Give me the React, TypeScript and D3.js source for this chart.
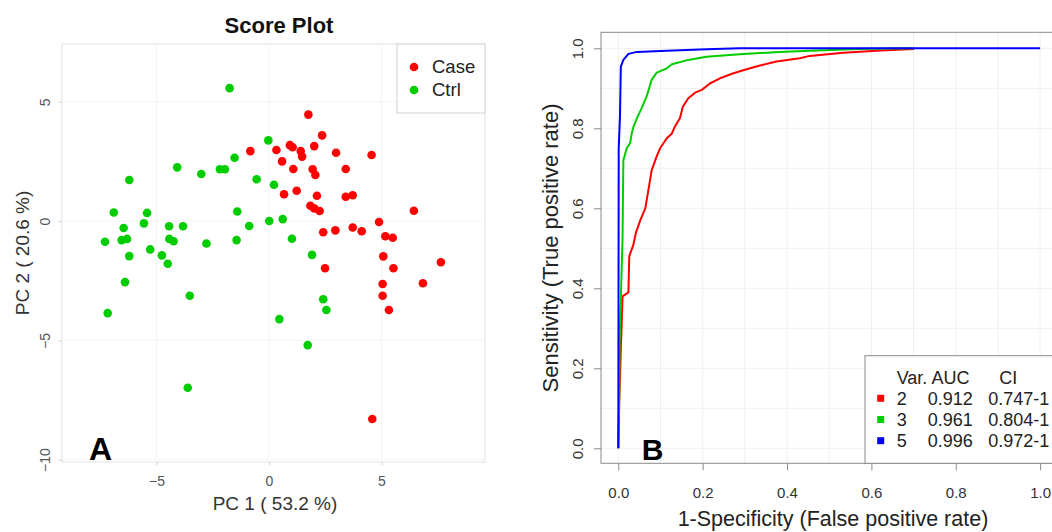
import { useEffect, useRef } from "react";
import * as d3 from "d3";

const FONT = "'Liberation Sans', Arial, Helvetica, sans-serif";

// Score plot (PCA) — [PC1, PC2]
const casePoints: [number, number][] = [
  [1.75, 4.46], [2.36, 3.59], [-0.83, 2.93], [0.33, 2.98], [0.93, 3.18],
  [1.05, 3.09], [1.41, 2.93], [1.47, 2.7], [2.01, 3.14], [2.98, 2.86],
  [4.56, 2.77], [0.58, 2.5], [1.08, 2.18], [1.94, 2.17], [2.06, 1.93],
  [3.41, 2.18], [0.67, 1.12], [1.23, 1.27], [2.13, 1.06], [3.41, 1.02],
  [3.72, 1.08], [1.84, 0.64], [2.01, 0.53], [2.25, 0.42], [6.44, 0.43],
  [2.41, -0.47], [2.95, -0.39], [3.72, -0.27], [4.12, -0.43], [4.89, -0.04],
  [5.17, -0.64], [5.5, -0.7], [5.08, -1.48], [7.64, -1.73], [2.49, -1.98],
  [5.53, -1.98], [6.84, -2.61], [5.05, -2.64], [5.05, -3.13], [5.33, -3.73],
  [4.59, -8.3],
];

const ctrlPoints: [number, number][] = [
  [-1.75, 5.57], [-0.03, 3.38], [-1.53, 2.65], [-4.08, 2.25], [-3.01, 1.97],
  [-2.18, 2.17], [-1.96, 2.17], [-0.55, 1.75], [0.22, 1.52], [-6.21, 1.72],
  [-6.9, 0.36], [-5.42, 0.34], [-1.41, 0.4], [0.01, 0.0], [0.61, 0.08],
  [-5.56, -0.1], [-6.46, -0.29], [-4.44, -0.22], [-3.82, -0.22], [-0.88, -0.21],
  [-7.29, -0.87], [-6.55, -0.8], [-6.31, -0.75], [-4.43, -0.75], [-4.24, -0.85],
  [-2.78, -0.94], [-1.44, -0.8], [1.02, -0.74], [-5.28, -1.19], [-6.21, -1.47],
  [-4.76, -1.44], [1.91, -1.42], [-4.5, -1.79], [-6.4, -2.56], [-3.52, -3.13],
  [-7.17, -3.86], [2.41, -3.28], [2.55, -3.73], [0.46, -4.11], [1.72, -5.2],
  [-3.61, -6.99],
];

const scoreGroups = ["Case", "Ctrl"];
const scoreColors = ["#ff0000", "#00cd00"];
const pc1Ticks = [-5, 0, 5];
const pc2Ticks = [-10, -5, 0, 5];

// ROC curves — [1-specificity, sensitivity]
const roc2: [number, number][] = [
  [0, 0], [0.002, 0.11], [0.004, 0.17], [0.006, 0.25], [0.008, 0.31],
  [0.01, 0.38], [0.024, 0.39], [0.026, 0.48], [0.036, 0.51], [0.042, 0.54],
  [0.052, 0.57], [0.064, 0.6], [0.072, 0.65], [0.079, 0.695], [0.091, 0.73],
  [0.099, 0.75], [0.115, 0.775], [0.127, 0.787], [0.134, 0.804], [0.146, 0.825],
  [0.153, 0.854], [0.166, 0.875], [0.182, 0.889], [0.198, 0.896], [0.217, 0.912],
  [0.241, 0.925], [0.273, 0.9375], [0.304, 0.9475], [0.336, 0.957], [0.375, 0.967],
  [0.43, 0.975], [0.454, 0.981], [0.533, 0.989], [0.612, 0.994], [0.699, 0.998],
  [0.7, 1.0],
];

const roc3: [number, number][] = [
  [0, 0], [0.002, 0.1], [0.003, 0.27], [0.006, 0.37], [0.008, 0.45],
  [0.01, 0.52], [0.012, 0.72], [0.02, 0.75], [0.028, 0.763], [0.032, 0.788],
  [0.036, 0.804], [0.044, 0.825], [0.055, 0.85], [0.067, 0.879], [0.079, 0.921],
  [0.091, 0.939], [0.115, 0.95], [0.127, 0.96], [0.166, 0.971], [0.209, 0.979],
  [0.288, 0.985], [0.336, 0.988], [0.383, 0.991], [0.454, 0.994], [0.572, 0.998],
  [0.7, 1.0],
];

const roc5: [number, number][] = [
  [0, 0], [0.001, 0.75], [0.004, 0.83], [0.006, 0.954], [0.012, 0.971],
  [0.024, 0.986], [0.044, 0.991], [0.115, 0.994], [0.209, 0.9975], [0.288, 1.0],
  [1.0, 1.0],
];

const rocSeries = [roc2, roc3, roc5];
const rocVars = ["2", "3", "5"];
const rocAuc = ["0.912", "0.961", "0.996"];
const rocCi = ["0.747-1", "0.804-1", "0.972-1"];
const rocColors = ["#ff0000", "#00cd00", "#0000ff"];
const rocTicks = [0, 0.2, 0.4, 0.6, 0.8, 1.0];

export default function App() {
  const ref = useRef<SVGSVGElement>(null);

  useEffect(() => {
    if (!ref.current) return;
    const svg = d3.select(ref.current);
    svg.selectAll("*").remove();

    // ---------- Panel A: score plot ----------
    const xA = d3.scaleLinear().domain([-9.2, 9.6]).range([62, 485]);
    const yA = d3.scaleLinear().domain([-10.1, 7.42]).range([462, 44]);
    const a = svg.append("g");

    a.append("rect")
      .attr("x", xA(-9.2))
      .attr("y", yA(7.42))
      .attr("width", xA(9.6) - xA(-9.2))
      .attr("height", yA(-10.1) - yA(7.42))
      .attr("fill", "white")
      .attr("stroke", "#e2e2e2");

    a.selectAll(".gx")
      .data(pc1Ticks)
      .join("line")
      .attr("x1", (d) => xA(d))
      .attr("x2", (d) => xA(d))
      .attr("y1", yA(7.42))
      .attr("y2", yA(-10.1))
      .attr("stroke", "#f3f3f3");
    a.selectAll(".gy")
      .data(pc2Ticks)
      .join("line")
      .attr("x1", xA(-9.2))
      .attr("x2", xA(9.6))
      .attr("y1", (d) => yA(d))
      .attr("y2", (d) => yA(d))
      .attr("stroke", "#f3f3f3");

    const groups = [casePoints, ctrlPoints];
    groups.forEach((pts, i) => {
      a.append("g")
        .selectAll("circle")
        .data(pts)
        .join("circle")
        .attr("cx", (d) => xA(d[0]))
        .attr("cy", (d) => yA(d[1]))
        .attr("r", 4.3)
        .attr("fill", scoreColors[i]);
    });

    const axA = a
      .append("g")
      .attr("transform", `translate(0,${yA(-10.1)})`)
      .call(d3.axisBottom(xA).tickValues(pc1Ticks).tickSize(3).tickFormat(d3.format("d")));
    const ayA = a
      .append("g")
      .attr("transform", `translate(${xA(-9.2)},0)`)
      .call(d3.axisLeft(yA).tickValues(pc2Ticks).tickSize(3).tickFormat(d3.format("d")));
    [axA, ayA].forEach((g) => {
      g.select(".domain").remove();
      g.selectAll("line").attr("stroke", "#cfcfcf");
      g.selectAll("text")
        .attr("font-family", FONT)
        .attr("font-size", 14)
        .attr("fill", "#555");
    });
    axA.selectAll("text").attr("y", 14).attr("dy", "0.71em");
    ayA.selectAll("text")
      .attr("x", 0)
      .attr("y", -17)
      .attr("dy", "0.35em")
      .attr("text-anchor", "middle")
      .attr("transform", "rotate(-90)");

    // legend
    a.append("rect")
      .attr("x", 397)
      .attr("y", 44)
      .attr("width", 88)
      .attr("height", 69)
      .attr("fill", "white")
      .attr("stroke", "#d2d2d2");
    scoreGroups.forEach((name, i) => {
      const cy = 67 + i * 23;
      a.append("circle").attr("cx", 414).attr("cy", cy).attr("r", 4.3).attr("fill", scoreColors[i]);
      a.append("text")
        .attr("x", 432)
        .attr("y", cy)
        .attr("dy", "0.35em")
        .attr("font-family", FONT)
        .attr("font-size", 18.5)
        .attr("fill", "#222")
        .text(name);
    });

    a.append("text")
      .attr("x", 279)
      .attr("y", 33)
      .attr("text-anchor", "middle")
      .attr("font-family", FONT)
      .attr("font-weight", "bold")
      .attr("font-size", 22)
      .attr("fill", "#111")
      .text("Score Plot");
    a.append("text")
      .attr("x", 275)
      .attr("y", 510)
      .attr("text-anchor", "middle")
      .attr("font-family", FONT)
      .attr("font-size", 19)
      .attr("fill", "#333")
      .text("PC 1 ( 53.2 %)");
    a.append("text")
      .attr("transform", `translate(29,253) rotate(-90)`)
      .attr("text-anchor", "middle")
      .attr("font-family", FONT)
      .attr("font-size", 19)
      .attr("fill", "#333")
      .text("PC 2 ( 20.6 %)");
    a.append("text")
      .attr("x", 89)
      .attr("y", 460)
      .attr("font-family", FONT)
      .attr("font-weight", "bold")
      .attr("font-size", 32)
      .attr("fill", "#000")
      .text("A");

    // ---------- Panel B: ROC ----------
    const xB = d3.scaleLinear().domain([-0.041, 1.04]).range([601, 1057]);
    const yB = d3.scaleLinear().domain([-0.0375, 1.04]).range([463.3, 32.3]);
    const b = svg.append("g");
    const gridVals = xB.ticks(10);

    b.append("g")
      .selectAll("line")
      .data(gridVals)
      .join("line")
      .attr("x1", (d) => xB(d))
      .attr("x2", (d) => xB(d))
      .attr("y1", yB(1.04))
      .attr("y2", yB(-0.0375))
      .attr("stroke", "#efefef");
    b.append("g")
      .selectAll("line")
      .data(gridVals)
      .join("line")
      .attr("x1", xB(-0.041))
      .attr("x2", xB(1.04))
      .attr("y1", (d) => yB(d))
      .attr("y2", (d) => yB(d))
      .attr("stroke", "#efefef");

    const line = d3
      .line<[number, number]>()
      .x((d) => xB(d[0]))
      .y((d) => yB(d[1]));
    rocSeries.forEach((s, i) => {
      b.append("path")
        .datum(s)
        .attr("fill", "none")
        .attr("stroke", rocColors[i])
        .attr("stroke-width", 2)
        .attr("stroke-linejoin", "round")
        .attr("d", line);
    });

    b.append("rect")
      .attr("x", xB(-0.041))
      .attr("y", yB(1.04))
      .attr("width", xB(1.04) - xB(-0.041))
      .attr("height", yB(-0.0375) - yB(1.04))
      .attr("fill", "none")
      .attr("stroke", "#8a8a8a");

    const fmt = d3.format(".1f");
    const axB = b
      .append("g")
      .attr("transform", `translate(0,${yB(-0.0375)})`)
      .call(d3.axisBottom(xB).tickValues(rocTicks).tickSize(7).tickFormat((d) => fmt(d as number)));
    const ayB = b
      .append("g")
      .attr("transform", `translate(${xB(-0.041)},0)`)
      .call(d3.axisLeft(yB).tickValues(rocTicks).tickSize(7).tickFormat((d) => fmt(d as number)));
    [axB, ayB].forEach((g) => {
      g.select(".domain").remove();
      g.selectAll("line").attr("stroke", "#8a8a8a");
      g.selectAll("text")
        .attr("font-family", FONT)
        .attr("font-size", 15)
        .attr("fill", "#333");
    });
    axB.selectAll("text").attr("y", 29).attr("dy", "0.35em");
    ayB.selectAll("text")
      .attr("x", 0)
      .attr("y", -23)
      .attr("dy", "0.35em")
      .attr("text-anchor", "middle")
      .attr("transform", "rotate(-90)");

    // legend
    b.append("rect")
      .attr("x", 865)
      .attr("y", 355.7)
      .attr("width", 220)
      .attr("height", yB(-0.0375) - 355.7)
      .attr("fill", "white")
      .attr("stroke", "#8a8a8a");
    const legText = (x: number, y: number, t: string) =>
      b.append("text")
        .attr("x", x)
        .attr("y", y)
        .attr("dy", "0.35em")
        .attr("font-family", FONT)
        .attr("font-size", 18)
        .attr("fill", "#222")
        .text(t);
    legText(896.7, 377.3, "Var. AUC");
    legText(999.3, 377.3, "CI");
    rocVars.forEach((v, i) => {
      const cy = 398.3 + i * 21.2;
      b.append("rect")
        .attr("x", 877.2)
        .attr("y", cy - 3.5)
        .attr("width", 7)
        .attr("height", 7)
        .attr("fill", rocColors[i]);
      legText(896.7, cy, v);
      legText(927.7, cy, rocAuc[i]);
      legText(988.3, cy, rocCi[i]);
    });

    b.append("text")
      .attr("x", 833)
      .attr("y", 526)
      .attr("text-anchor", "middle")
      .attr("font-family", FONT)
      .attr("font-size", 21.5)
      .attr("fill", "#222")
      .text("1-Specificity (False positive rate)");
    b.append("text")
      .attr("transform", `translate(557.5,248) rotate(-90)`)
      .attr("text-anchor", "middle")
      .attr("font-family", FONT)
      .attr("font-size", 22)
      .attr("fill", "#222")
      .text("Sensitivity (True positive rate)");
    b.append("text")
      .attr("x", 641.7)
      .attr("y", 460)
      .attr("font-family", FONT)
      .attr("font-weight", "bold")
      .attr("font-size", 30)
      .attr("fill", "#000")
      .text("B");

    return () => {
      svg.selectAll("*").remove();
    };
  }, []);

  return (
    <div style={{ position: "fixed", left: 0, top: 0 }}>
      <svg ref={ref} width={1052} height={532} style={{ display: "block", background: "white" }} />
    </div>
  );
}
